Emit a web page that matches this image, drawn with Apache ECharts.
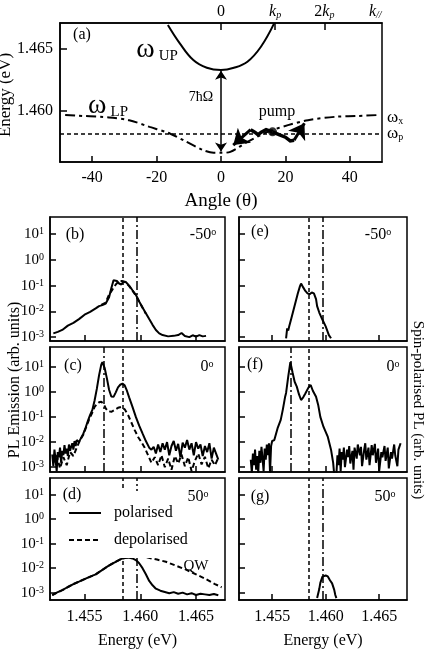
<!DOCTYPE html>
<html>
<head>
<meta charset="utf-8">
<script src="https://cdn.jsdelivr.net/npm/echarts@6/dist/echarts.min.js"></script>
<style>html,body{margin:0;padding:0;background:#fff}#chart{width:430px;height:650px}</style>
</head>
<body>
<div id="chart"></div>
<script>
// ---- panel (a): polariton dispersion ----
const upAngle = [-16.5, -12.8, -8.6, -4.4, 0, 4.0, 8.2, 12.4, 16.5];
const upEnergy = [1.46694, 1.46546, 1.46411, 1.46349, 1.46331, 1.46349, 1.46398, 1.46519, 1.46707];
const lpAngle = [-48.4, -34.8, -28.5, -22.2, -15.9, -10.7, -5.5, -2.3, 0, 2.9, 8.2, 14.5, 20.8, 27.0, 35.4, 41.7, 48.5];
const lpEnergy = [1.45968, 1.45949, 1.45927, 1.45873, 1.4582, 1.45752, 1.45685, 1.45664, 1.45664, 1.45672, 1.45752, 1.45833, 1.45887, 1.45927, 1.45954, 1.4596, 1.45968];
const omegaP = 1.4582;
const pumpPoint = [16.0, 1.45833];
const pumpSignalPath = [[16.0, 1.45833], [14.0, 1.4585], [12.5, 1.4583], [11.5, 1.4581], [10.5, 1.4583], [9.2, 1.4585]];
const pumpIdlerPath = [[16.0, 1.45833], [18.0, 1.4581], [20.0, 1.4579], [21.5, 1.4576], [22.7, 1.45766]];
const pumpHeads = [[[9.2, 1.4585], [3.8, 1.45726]], [[22.7, 1.45766], [25.9, 1.45903]]];
const rabiArrow = [[0, 1.45674], [0, 1.46325]];
const angleTicks = [-40, -20, 0, 20, 40];
const angleTickLabels = ['-40', '-20', '0', '20', '40'];
const kTickAngles = [0, 16.8, 32.1];
const kLabelAngles = [0, 16.8, 32.1, 47.9];
const kLabels = ['0', '{k|k}{p|p}', '2{k|k}{p|p}', '{k|k}{p|//}'];
const energyTicksA = [1.460, 1.465];
const energyTickLabelsA = ['1.460', '1.465'];

// ---- panels (b)-(g): spectra ----
const energyTicks = [1.455, 1.460, 1.465];
const energyTickLabels = ['1.455', '1.460', '1.465'];
const decadeTicks = [1e-3, 1e-2, 1e-1, 1, 10];
const decadeLabels = ['-3', '-2', '-1', '0', '1'];
const rowLogMin = [7.08e-4, 6.46e-4, 5.01e-4];
const rowLogMax = [45.7, 60.3, 47.9];
const omegaPLine = 1.4584;
const dashDotLines = [1.4597, 1.4567, 1.4597]; // rows -50, 0, 50

const specB_pol = [[1.4522, 1.4e-3], [1.4526, 1.6e-3], [1.4530, 1.9e-3], [1.4535, 2.8e-3], [1.4540, 3.6e-3], [1.4545, 5.0e-3], [1.4550, 7.4e-3], [1.4555, 9.5e-3], [1.4560, 1.3e-2], [1.4563, 1.6e-2], [1.4566, 1.75e-2], [1.4569, 2.0e-2], [1.4572, 3.5e-2], [1.4574, 7.9e-2], [1.4576, 0.16], [1.4577, 0.18], [1.4579, 0.15], [1.4581, 0.12], [1.4583, 0.11], [1.4585, 0.145], [1.4587, 0.138], [1.4590, 0.10], [1.4593, 0.066], [1.4596, 0.044], [1.4599, 0.024], [1.4602, 0.014], [1.4605, 8.5e-3], [1.4608, 5.0e-3], [1.4611, 3.0e-3], [1.4614, 1.9e-3], [1.4617, 1.4e-3], [1.4620, 1.2e-3], [1.4625, 1.07e-3], [1.4630, 1.12e-3], [1.4634, 1.2e-3], [1.4637, 1.45e-3], [1.4640, 1.1e-3], [1.4644, 1.0e-3], [1.4647, 1.18e-3], [1.4650, 1.05e-3], [1.4653, 1.2e-3], [1.4656, 1.07e-3], [1.4659, 1.12e-3]];
const specB_dep = [[1.4565, 1.8e-2], [1.4569, 2.2e-2], [1.4572, 4.5e-2], [1.4575, 0.07], [1.4578, 0.11], [1.4581, 0.15], [1.4584, 0.15], [1.4587, 0.13], [1.4590, 0.095], [1.4595, 0.048], [1.4600, 0.02], [1.4605, 8e-3]];

const specC_pol = [[1.4521, 3.2e-3], [1.4522, 1.1e-3], [1.4523, 5.0e-3], [1.4524, 2.0e-3], [1.4525, 7.0e-4], [1.4526, 4.0e-3], [1.4527, 2.5e-3], [1.4528, 6.0e-3], [1.4529, 1.5e-3], [1.4530, 4.5e-3], [1.4531, 3.0e-3], [1.4532, 7.5e-3], [1.4533, 3.5e-3], [1.4534, 5.5e-3], [1.4535, 2.8e-3], [1.4536, 8.0e-3], [1.4537, 4.5e-3], [1.4538, 6.5e-3], [1.4539, 9.0e-3], [1.4540, 5.0e-3], [1.4541, 1.1e-2], [1.4542, 7.0e-3], [1.4543, 1.2e-2], [1.4545, 1.0e-2], [1.4547, 1.5e-2], [1.4549, 2.2e-2], [1.4551, 3.8e-2], [1.4553, 0.07], [1.4555, 0.12], [1.4557, 0.19], [1.4559, 0.45], [1.4561, 1.3], [1.4563, 4.5], [1.4565, 12], [1.4566, 15], [1.4568, 9], [1.4570, 3.5], [1.4572, 1.2], [1.4574, 0.65], [1.4576, 0.63], [1.4578, 0.95], [1.4580, 1.5], [1.4582, 1.9], [1.4584, 2.1], [1.4586, 1.8], [1.4588, 1.1], [1.4590, 0.6], [1.4593, 0.25], [1.4596, 0.1], [1.4599, 0.045], [1.4602, 0.022], [1.4605, 0.011], [1.4608, 6e-3], [1.4610, 5e-3], [1.4612, 6.5e-3], [1.4614, 3.5e-3], [1.4616, 8e-3], [1.4618, 4e-3], [1.4620, 9e-3], [1.4622, 5e-3], [1.4624, 1.0e-2], [1.4626, 3e-3], [1.4628, 7e-3], [1.4630, 1.1e-2], [1.4632, 4.5e-3], [1.4634, 8.5e-3], [1.4636, 2.5e-3], [1.4638, 9.5e-3], [1.4640, 6e-3], [1.4642, 1.2e-2], [1.4644, 5e-3], [1.4646, 9e-3], [1.4648, 3e-3], [1.4650, 1.0e-2], [1.4652, 5.5e-3], [1.4654, 8e-3], [1.4656, 2.8e-3], [1.4658, 7e-3], [1.4660, 4e-3], [1.4662, 9e-3], [1.4664, 2.2e-3], [1.4666, 6e-3], [1.4668, 3.5e-3], [1.4670, 2.0e-3]];
const specC_dep = [[1.4522, 1.5e-3], [1.4525, 3e-3], [1.4528, 9e-4], [1.4531, 2.5e-3], [1.4534, 1.2e-3], [1.4537, 4e-3], [1.4540, 2.8e-3], [1.4543, 6e-3], [1.4546, 1.2e-2], [1.4549, 2.0e-2], [1.4551, 3.5e-2], [1.4553, 0.06], [1.4555, 0.1], [1.4557, 0.15], [1.4559, 0.25], [1.4561, 0.32], [1.4563, 0.38], [1.4565, 0.40], [1.4567, 0.33], [1.4569, 0.22], [1.4571, 0.17], [1.4574, 0.16], [1.4577, 0.19], [1.4580, 0.23], [1.4583, 0.25], [1.4586, 0.2], [1.4589, 0.12], [1.4592, 0.06], [1.4595, 0.03], [1.4598, 0.016], [1.4601, 0.01], [1.4604, 6e-3], [1.4607, 3e-3], [1.4610, 1.5e-3], [1.4613, 2.5e-3], [1.4616, 1.2e-3], [1.4619, 3e-3], [1.4622, 1.0e-3], [1.4625, 2.2e-3], [1.4628, 8e-4], [1.4631, 2.8e-3], [1.4634, 1.4e-3], [1.4637, 3.2e-3], [1.4640, 1.1e-3], [1.4643, 2.5e-3], [1.4646, 7e-4], [1.4649, 1.8e-3], [1.4652, 3.5e-3], [1.4655, 1.3e-3], [1.4658, 2.6e-3], [1.4661, 9e-4], [1.4664, 2.0e-3], [1.4667, 1.2e-3], [1.4670, 2.4e-3]];

const specD_pol = [[1.4521, 7.9e-4], [1.4525, 1.0e-3], [1.4530, 1.26e-3], [1.4535, 1.7e-3], [1.4540, 2.24e-3], [1.4545, 2.8e-3], [1.4550, 3.55e-3], [1.4555, 4.5e-3], [1.4560, 5.6e-3], [1.4565, 7.9e-3], [1.4570, 1.12e-2], [1.4574, 1.45e-2], [1.4578, 1.82e-2], [1.4583, 2.4e-2], [1.4589, 2.7e-2], [1.4593, 2.5e-2], [1.4596, 2.14e-2], [1.4599, 1.58e-2], [1.4602, 1.0e-2], [1.4605, 5.6e-3], [1.4608, 3.0e-3], [1.4611, 2.0e-3], [1.4614, 1.45e-3], [1.4618, 1.2e-3], [1.4622, 1.07e-3], [1.4626, 9.5e-4], [1.4630, 1.05e-3], [1.4634, 9e-4], [1.4638, 1.0e-3], [1.4642, 8.5e-4], [1.4646, 9.5e-4], [1.4650, 8e-4], [1.4654, 9e-4], [1.4658, 8.5e-4], [1.4662, 8e-4], [1.4666, 8.8e-4], [1.4670, 7.8e-4]];
const specD_dep = [[1.4521, 8e-4], [1.4530, 1.26e-3], [1.4540, 2.24e-3], [1.4550, 3.55e-3], [1.4560, 5.6e-3], [1.4570, 1.12e-2], [1.4578, 1.82e-2], [1.4583, 2.4e-2], [1.4589, 2.8e-2], [1.4593, 3.0e-2], [1.4597, 3.2e-2], [1.4605, 2.8e-2], [1.4615, 2.24e-2], [1.4623, 1.82e-2], [1.4632, 1.26e-2], [1.4641, 8.7e-3], [1.4650, 5.6e-3], [1.4659, 3.55e-3], [1.4667, 2.24e-3], [1.4673, 1.66e-3]];

const specE = [[1.4563, 9e-4], [1.4564, 2.2e-3], [1.4565, 1.8e-3], [1.4566, 2.7e-3], [1.4568, 5.5e-3], [1.4570, 1.15e-2], [1.4572, 2.4e-2], [1.4574, 0.05], [1.4576, 0.095], [1.4577, 0.12], [1.4579, 0.085], [1.4581, 0.062], [1.4583, 0.05], [1.4585, 0.046], [1.4587, 0.054], [1.4589, 0.05], [1.4591, 0.03], [1.4592, 0.016], [1.4594, 0.009], [1.4597, 4.7e-3], [1.4600, 2.6e-3], [1.4601, 2.9e-3], [1.4603, 1.2e-3], [1.4605, 9e-4]];
const specF = [[1.4530, 2.0e-3], [1.4531, 6e-4], [1.4532, 3.5e-3], [1.4533, 1.2e-3], [1.4534, 5e-3], [1.4535, 8e-4], [1.4536, 2.8e-3], [1.4537, 6e-4], [1.4538, 4.5e-3], [1.4539, 1.5e-3], [1.4540, 6.5e-3], [1.4541, 2.2e-3], [1.4542, 7e-4], [1.4543, 5.5e-3], [1.4544, 2.0e-3], [1.4545, 8e-3], [1.4546, 3e-3], [1.4547, 9e-3], [1.4548, 6e-4], [1.4549, 7e-3], [1.4550, 1.1e-2], [1.4552, 1.2e-2], [1.4555, 0.035], [1.4558, 0.076], [1.4560, 0.2], [1.4562, 0.6], [1.4563, 0.9], [1.4565, 4], [1.4567, 15], [1.4569, 6], [1.4571, 2.5], [1.4573, 1.6], [1.4575, 0.8], [1.4577, 0.47], [1.4579, 0.6], [1.4581, 0.85], [1.4584, 1.5], [1.4586, 1.85], [1.4588, 1.1], [1.4591, 0.63], [1.4593, 0.3], [1.4595, 0.1], [1.4598, 0.04], [1.4602, 0.016], [1.4605, 5e-3], [1.4607, 1.5e-3], [1.4608, 5e-4], [1.4610, 5e-4], [1.4611, 3e-3], [1.4612, 1.2e-3], [1.4613, 5.5e-3], [1.4614, 7e-4], [1.4615, 4e-3], [1.4616, 2e-3], [1.4617, 6e-3], [1.4618, 1e-3], [1.4620, 5e-3], [1.4621, 2.5e-3], [1.4622, 7e-3], [1.4623, 1.4e-3], [1.4625, 4.5e-3], [1.4626, 8e-4], [1.4627, 6e-3], [1.4629, 2.2e-3], [1.4630, 8e-3], [1.4632, 3e-3], [1.4633, 6.5e-3], [1.4634, 1.1e-3], [1.4636, 5e-3], [1.4637, 9e-3], [1.4638, 2e-3], [1.4640, 6e-3], [1.4641, 1.2e-3], [1.4643, 7.5e-3], [1.4644, 3e-3], [1.4646, 8.5e-3], [1.4647, 1.5e-3], [1.4649, 5.5e-3], [1.4650, 7e-4], [1.4652, 4e-3], [1.4653, 2.5e-3], [1.4655, 7e-3], [1.4656, 1.8e-3], [1.4658, 6e-3], [1.4659, 9e-4], [1.4661, 4e-3], [1.4662, 2.2e-3], [1.4664, 8e-3], [1.4665, 3e-3], [1.4667, 1.1e-3], [1.4668, 5e-3], [1.4670, 9e-3]];
const specG = [[1.4592, 6e-4], [1.4594, 1.4e-3], [1.4595, 2.5e-3], [1.4597, 4.5e-3], [1.4598, 5.3e-3], [1.4600, 5.0e-3], [1.4602, 4.6e-3], [1.4604, 3.2e-3], [1.4606, 2.4e-3], [1.4608, 1.3e-3], [1.4609, 8e-4], [1.4610, 6e-4]];

const FONT = 'Liberation Serif';
const BLACK = '#000';
const axisLine = { show: true, onZero: false, lineStyle: { color: BLACK, width: 1.5 } };
const tickStyle = { color: BLACK, width: 1.5 };
const zip = (xs, ys) => xs.map((x, i) => [x, ys[i]]);
const nearestLabel = (vals, labels) => v => {
  let best = 0;
  vals.forEach((t, i) => { if (Math.abs(t - v) < Math.abs(vals[best] - v)) best = i; });
  return labels[best];
};

// grids: (a), then left column b,c,d and right column e,f,g
const grids = [
  { left: 60, top: 23, width: 322, height: 139 },
  { left: 50, top: 217, width: 175, height: 124 },
  { left: 50, top: 347, width: 175, height: 125 },
  { left: 50, top: 478, width: 175, height: 127 },
  { left: 239, top: 217, width: 168, height: 124 },
  { left: 239, top: 347, width: 168, height: 125 },
  { left: 239, top: 478, width: 168, height: 127 }
].map(g => Object.assign({ show: true, borderColor: BLACK, borderWidth: 1.5, backgroundColor: 'transparent' }, g));

const xAxes = [
  {
    type: 'value', gridIndex: 0, min: -50, max: 50, axisLine,
    axisTick: { inside: true, length: 6, customValues: angleTicks, lineStyle: tickStyle },
    axisLabel: { customValues: angleTicks, formatter: nearestLabel(angleTicks, angleTickLabels), color: BLACK, fontFamily: FONT, fontSize: 16, margin: 8 },
    splitLine: { show: false },
    name: 'Angle (θ)', nameLocation: 'middle', nameGap: 30,
    nameTextStyle: { color: BLACK, fontFamily: FONT, fontSize: 19 }
  },
  {
    type: 'value', gridIndex: 0, position: 'top', min: -50, max: 50, axisLine,
    axisTick: { inside: true, length: 7, customValues: kTickAngles, lineStyle: tickStyle },
    axisLabel: {
      customValues: kLabelAngles, formatter: nearestLabel(kLabelAngles, kLabels),
      color: BLACK, fontFamily: FONT, fontSize: 16, margin: 3,
      rich: {
        k: { fontFamily: FONT, fontSize: 16, fontStyle: 'italic', color: BLACK },
        p: { fontFamily: FONT, fontSize: 10, fontStyle: 'italic', color: BLACK, verticalAlign: 'bottom' }
      }
    },
    splitLine: { show: false }
  }
];
for (let g = 1; g <= 6; g++) {
  const showLab = g === 3 || g === 6;
  xAxes.push({
    type: 'value', gridIndex: g, min: 1.4519, max: 1.4676, axisLine,
    axisTick: { inside: true, length: 6, customValues: energyTicks, lineStyle: tickStyle },
    axisLabel: { show: showLab, customValues: energyTicks, formatter: nearestLabel(energyTicks, energyTickLabels), color: BLACK, fontFamily: FONT, fontSize: 16, margin: 9 },
    splitLine: { show: false },
    name: showLab ? 'Energy (eV)' : '', nameLocation: 'middle', nameGap: 33,
    nameTextStyle: { color: BLACK, fontFamily: FONT, fontSize: 16 }
  });
}

const yAxes = [{
  type: 'value', gridIndex: 0, min: 1.4559, max: 1.4671, axisLine,
  axisTick: { inside: true, length: 7, customValues: energyTicksA, lineStyle: tickStyle },
  axisLabel: { customValues: energyTicksA, formatter: nearestLabel(energyTicksA, energyTickLabelsA), color: BLACK, fontFamily: FONT, fontSize: 16, margin: 7 },
  splitLine: { show: false }
}];
for (let g = 1; g <= 6; g++) {
  const row = (g - 1) % 3;
  const showLab = g <= 3;
  yAxes.push({
    type: 'log', logBase: 10, gridIndex: g, min: rowLogMin[row], max: rowLogMax[row], axisLine,
    axisTick: { inside: true, length: 6, customValues: decadeTicks, lineStyle: tickStyle },
    minorTick: { show: false },
    axisLabel: {
      show: showLab, customValues: decadeTicks, margin: 6,
      formatter: v => '{b|10}{s|' + nearestLabel(decadeTicks, decadeLabels)(v) + '}',
      rich: {
        b: { fontFamily: FONT, fontSize: 15, color: BLACK },
        s: { fontFamily: FONT, fontSize: 10, color: BLACK, verticalAlign: 'top' }
      }
    },
    splitLine: { show: false }
  });
}

const solid = { color: BLACK, width: 2 };
const dashed = { color: BLACK, width: 2, type: [5, 3] };
function vLines(row) {
  return {
    silent: true, symbol: 'none', label: { show: false }, precision: 6,
    data: [
      { xAxis: omegaPLine, lineStyle: { color: BLACK, width: 1.5, type: [4, 3] } },
      { xAxis: dashDotLines[row], lineStyle: { color: BLACK, width: 1.5, type: [9, 3, 2, 3] } }
    ]
  };
}
function spec(name, grid, data, style, row) {
  const s = {
    name, type: 'line', xAxisIndex: grid + 1, yAxisIndex: grid, data,
    symbol: 'none', lineStyle: style, itemStyle: { color: BLACK }, z: 3
  };
  if (row !== undefined) s.markLine = vLines(row);
  return s;
}

const series = [
  {
    type: 'line', xAxisIndex: 0, yAxisIndex: 0, data: zip(upAngle, upEnergy), smooth: 0.4,
    symbol: 'none', lineStyle: { color: BLACK, width: 2 }
  },
  {
    type: 'line', xAxisIndex: 0, yAxisIndex: 0, data: zip(lpAngle, lpEnergy), smooth: 0.3,
    symbol: 'none', lineStyle: { color: BLACK, width: 2, type: [10, 4, 3, 4] },
    markLine: {
      silent: true, symbol: 'none', label: { show: false }, precision: 6,
      data: [{ yAxis: omegaP, lineStyle: { color: BLACK, width: 1.5, type: [4, 3] } }]
    }
  },
  {
    type: 'lines', coordinateSystem: 'cartesian2d', xAxisIndex: 0, yAxisIndex: 0, polyline: true,
    data: [{ coords: pumpSignalPath }, { coords: pumpIdlerPath }],
    lineStyle: { color: BLACK, width: 3.5, opacity: 1 }, z: 4
  },
  {
    type: 'lines', coordinateSystem: 'cartesian2d', xAxisIndex: 0, yAxisIndex: 0,
    data: pumpHeads.map(c => ({ coords: c })), symbol: ['none', 'arrow'], symbolSize: 15,
    lineStyle: { color: BLACK, width: 3, opacity: 1 }, z: 4
  },
  {
    type: 'lines', coordinateSystem: 'cartesian2d', xAxisIndex: 0, yAxisIndex: 0,
    data: [{ coords: rabiArrow }], symbol: ['arrow', 'arrow'], symbolSize: 9,
    lineStyle: { color: BLACK, width: 1.5, opacity: 1 }, z: 4
  },
  {
    type: 'scatter', xAxisIndex: 0, yAxisIndex: 0, data: [pumpPoint], symbolSize: 9,
    itemStyle: { color: BLACK }, z: 5
  },
  spec('polarised', 1, specB_pol, solid, 0),
  spec('depolarised', 1, specB_dep, dashed),
  spec('polarised', 2, specC_pol, solid, 1),
  spec('depolarised', 2, specC_dep, dashed),
  spec('polarised', 3, specD_pol, solid, 2),
  spec('depolarised', 3, specD_dep, dashed),
  spec('spin -50', 4, specE, solid, 0),
  spec('spin 0', 5, specF, solid, 1),
  spec('spin 50', 6, specG, solid, 2)
];

function txt(x, y, text, size, extra) {
  return {
    type: 'text', x, y, z: 30,
    style: Object.assign({ text, fontFamily: FONT, fontSize: size, fill: BLACK, align: 'center', verticalAlign: 'middle' }, extra || {})
  };
}
function vtxt(x, y, text, size, rotation) {
  return {
    type: 'text', x, y, rotation, z: 30,
    style: { text, fontFamily: FONT, fontSize: size, fill: BLACK, align: 'center', verticalAlign: 'middle' }
  };
}
const sup = { o: { fontFamily: FONT, fontSize: 10, fill: BLACK, verticalAlign: 'top' } };
const omegaRich = {
  w: { fontFamily: FONT, fontSize: 28, fill: BLACK },
  u: { fontFamily: FONT, fontSize: 15, fill: BLACK, verticalAlign: 'bottom', padding: [0, 0, 0, 4] }
};
const subRich = {
  w: { fontFamily: FONT, fontSize: 17, fill: BLACK },
  u: { fontFamily: FONT, fontSize: 10, fill: BLACK, verticalAlign: 'bottom' }
};

const graphic = [
  txt(82, 35, '(a)', 16),
  txt(157, 50, '{w|ω}{u|UP}', 28, { rich: omegaRich }),
  txt(108, 106, '{w|ω}{u|LP}', 28, { rich: omegaRich }),
  txt(201, 97, '7ħΩ', 14),
  txt(277, 112, 'pump', 16),
  txt(387, 118, '{w|ω}{u|x}', 17, { rich: subRich, align: 'left' }),
  txt(387, 134, '{w|ω}{u|p}', 17, { rich: subRich, align: 'left' }),
  txt(75, 235, '(b)', 16), txt(203, 235, '-50{o|o}', 16, { rich: sup }),
  txt(73, 366, '(c)', 16), txt(207, 367, '0{o|o}', 16, { rich: sup }),
  txt(72, 495, '(d)', 16), txt(198, 497, '50{o|o}', 16, { rich: sup }),
  txt(260, 232, '(e)', 16), txt(378, 235, '-50{o|o}', 16, { rich: sup }),
  txt(255, 365, '(f)', 16), txt(393, 367, '0{o|o}', 16, { rich: sup }),
  txt(260, 497, '(g)', 16), txt(385, 497, '50{o|o}', 16, { rich: sup }),
  txt(196, 566, 'QW', 15),
  vtxt(6, 95, 'Energy (eV)', 17, Math.PI / 2),
  vtxt(15, 380, 'PL Emission (arb. units)', 16, Math.PI / 2),
  vtxt(418, 410, 'Spin-polarised PL (arb. units)', 15, -Math.PI / 2)
];

const chart = echarts.init(document.getElementById('chart'));
chart.setOption({
  animation: false,
  backgroundColor: '#fff',
  grid: grids,
  xAxis: xAxes,
  yAxis: yAxes,
  legend: {
    data: ['polarised', 'depolarised'], orient: 'vertical', left: 64, top: 491,
    itemWidth: 32, itemHeight: 14, itemGap: 11, z: 20,
    padding: [14, 10, 10, 4], backgroundColor: '#fff',
    itemStyle: { opacity: 0 },
    textStyle: { color: BLACK, fontFamily: FONT, fontSize: 16, padding: [0, 0, 0, 8] },
    selectedMode: false
  },
  graphic,
  series
});
</script>
</body>
</html>
